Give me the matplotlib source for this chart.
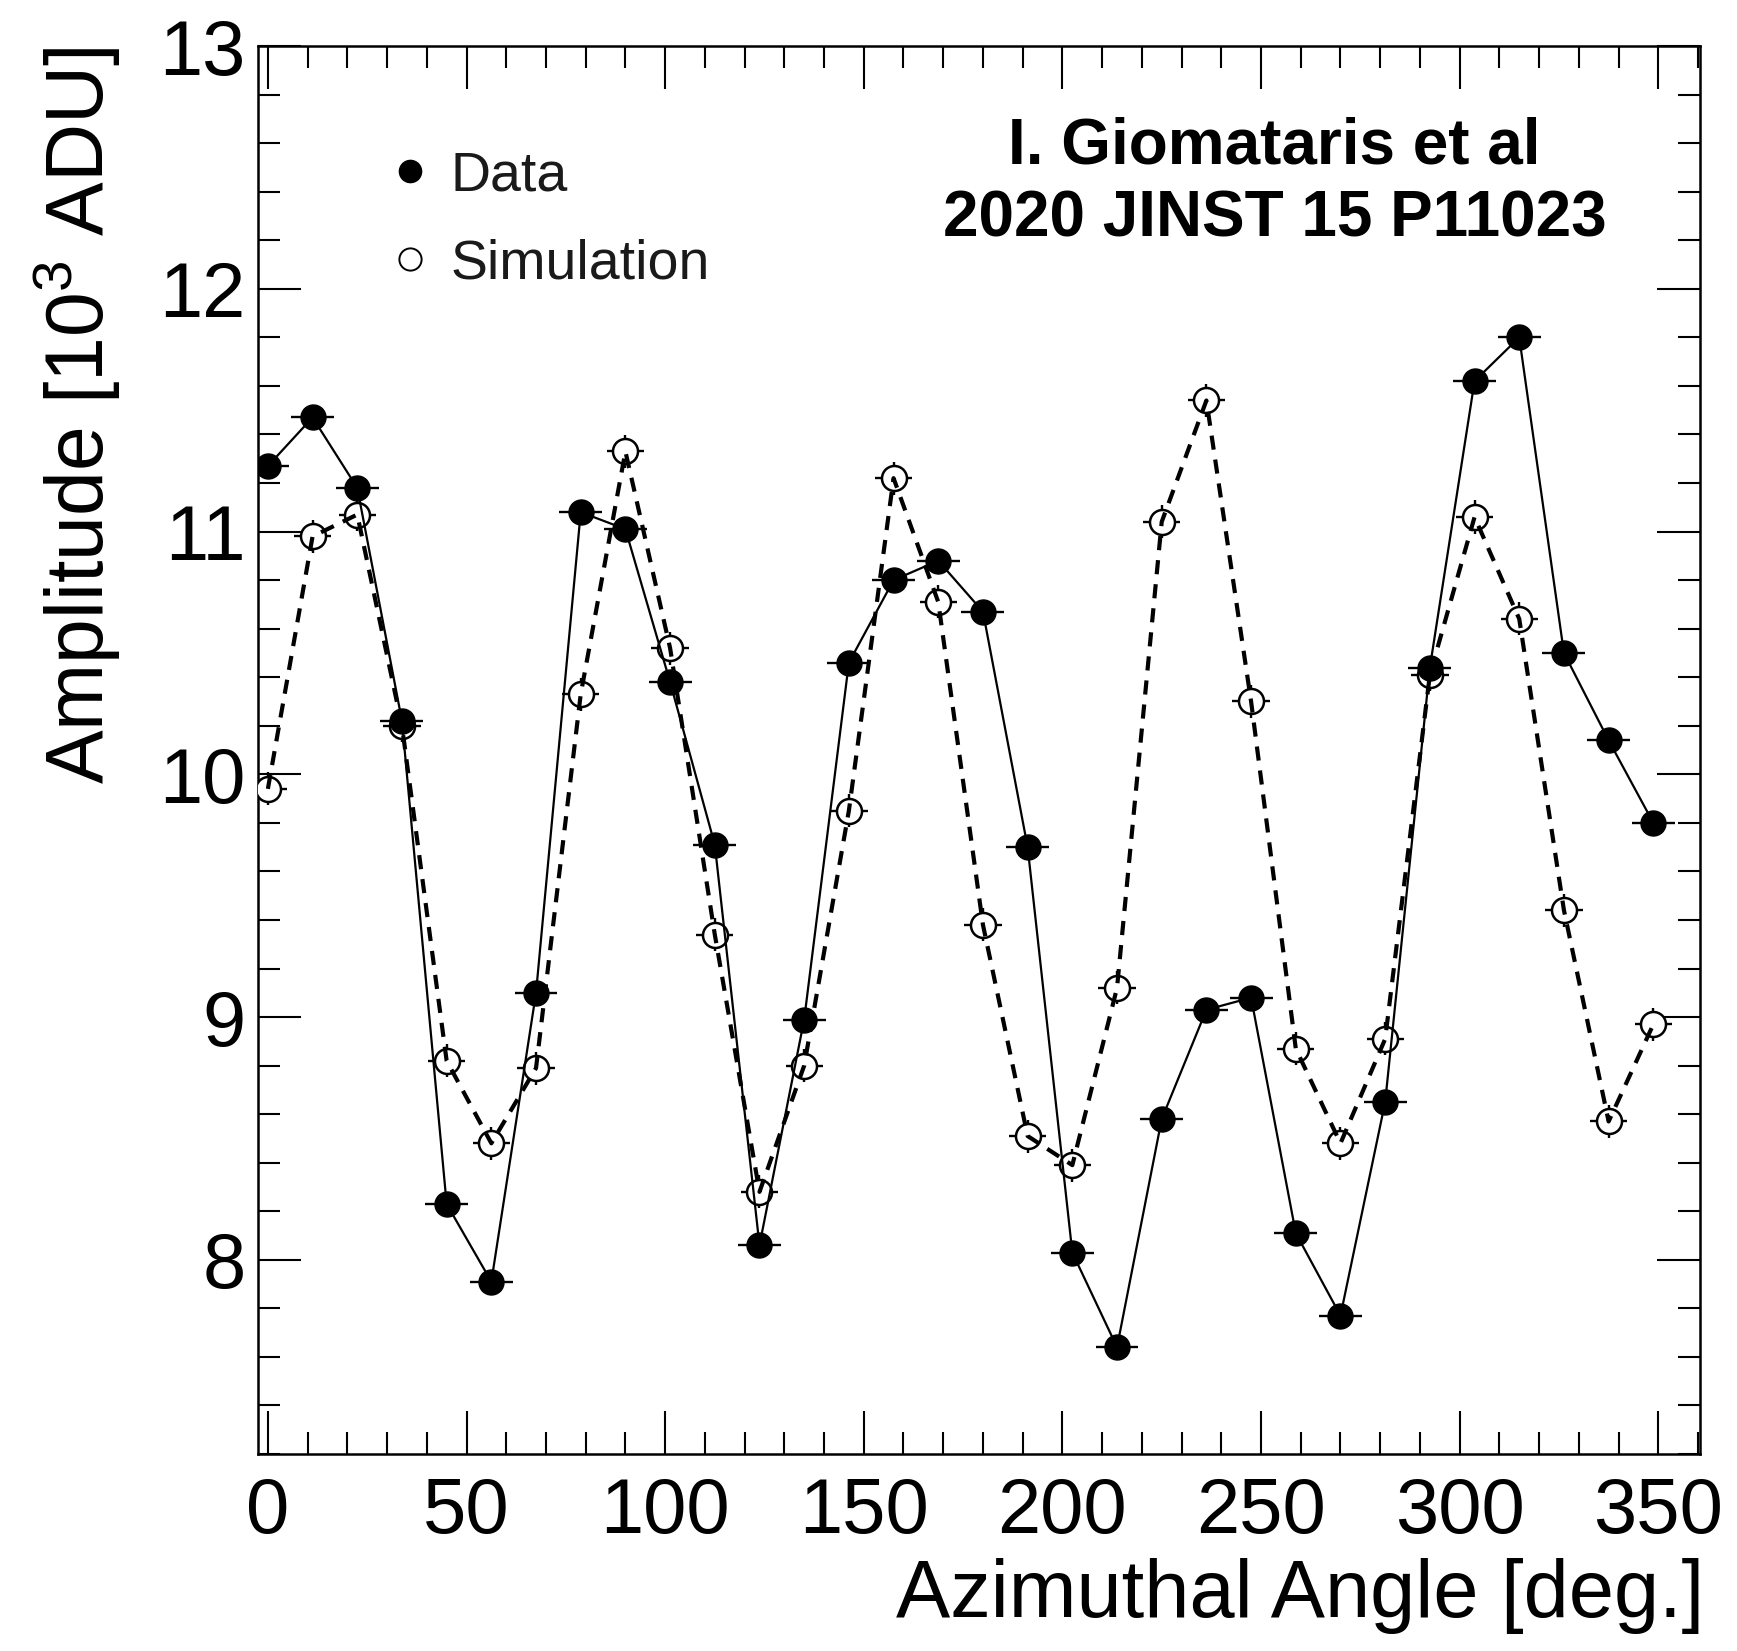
import matplotlib
matplotlib.use("Agg")
import matplotlib.pyplot as plt
from matplotlib.lines import Line2D
from matplotlib.ticker import MultipleLocator, FixedLocator

plt.rcParams["font.family"] = ["Liberation Sans", "DejaVu Sans"]
plt.rcParams["mathtext.fontset"] = "custom"
plt.rcParams["mathtext.rm"] = "Liberation Sans"
plt.rcParams["mathtext.it"] = "Liberation Sans:italic"
plt.rcParams["mathtext.bf"] = "Liberation Sans:bold"

# Azimuthal position of each anode (deg.)
angle_deg = [0.0, 11.25, 22.5, 33.75, 45.0, 56.25, 67.5, 78.75,
             90.0, 101.25, 112.5, 123.75, 135.0, 146.25, 157.5, 168.75,
             180.0, 191.25, 202.5, 213.75, 225.0, 236.25, 247.5, 258.75,
             270.0, 281.25, 292.5, 303.75, 315.0, 326.25, 337.5, 348.75]

# Pulse amplitude [10^3 ADU]
data_amp = [11.27, 11.47, 11.18, 10.22, 8.23, 7.91, 9.10, 11.08,
            11.01, 10.38, 9.71, 8.06, 8.99, 10.46, 10.80, 10.88,
            10.67, 9.70, 8.03, 7.64, 8.58, 9.03, 9.08, 8.11,
            7.77, 8.65, 10.44, 11.62, 11.80, 10.50, 10.14, 9.80]
sim_amp = [9.94, 10.98, 11.07, 10.20, 8.82, 8.48, 8.79, 10.33,
           11.33, 10.52, 9.34, 8.28, 8.80, 9.85, 11.22, 10.71,
           9.38, 8.51, 8.39, 9.12, 11.04, 11.54, 10.30, 8.87,
           8.48, 8.91, 10.41, 11.06, 10.64, 9.44, 8.57, 8.97]

# uncertainties
data_xerr, data_yerr = 5.4, 0.04
sim_xerr, sim_yerr = 4.7, 0.068

x_ticks = [0, 50, 100, 150, 200, 250, 300, 350]
y_ticks = [8, 9, 10, 11, 12, 13]

fig = plt.figure(figsize=(17.37, 16.51), dpi=100)
ax = fig.add_axes([0.1485, 0.1193, 0.9787 - 0.1485, 0.9721 - 0.1193])

# Simulation: dashed line with open circles
ax.errorbar(angle_deg, sim_amp, xerr=sim_xerr, yerr=sim_yerr, fmt="none",
            ecolor="black", elinewidth=1.7, zorder=2)
ax.plot(angle_deg, sim_amp, linestyle="none", marker="o", ms=18,
        mfc="white", mec="black", mew=1.8, zorder=3)
ax.plot(angle_deg, sim_amp, linestyle=(0, (3.4, 2.4)), lw=3.0,
        color="black", zorder=4)

# Data: solid line with filled circles
ax.errorbar(angle_deg, data_amp, xerr=data_xerr, yerr=data_yerr, fmt="none",
            ecolor="black", elinewidth=1.7, zorder=5)
ax.plot(angle_deg, data_amp, linestyle="-", lw=1.6, color="black", zorder=5)
ax.plot(angle_deg, data_amp, linestyle="none", marker="o", ms=18,
        mfc="black", mec="black", zorder=6)

ax.set_xlim(-2.5, 360.5)
ax.set_ylim(7.2, 13.0)

ax.xaxis.set_major_locator(FixedLocator(x_ticks))
ax.xaxis.set_minor_locator(MultipleLocator(10))
ax.yaxis.set_major_locator(FixedLocator(y_ticks))
ax.yaxis.set_minor_locator(MultipleLocator(0.2))
ax.set_xticklabels([str(v) for v in x_ticks])
ax.set_yticklabels([str(v) for v in y_ticks])

ax.tick_params(which="both", direction="in", top=True, right=True,
               color="black", labelsize=56)
ax.tick_params(which="major", length=31, width=1.5)
ax.tick_params(which="minor", length=15.5, width=1.5)
ax.tick_params(axis="x", which="major", pad=16)
ax.tick_params(axis="y", which="major", pad=9)
for sp in ax.spines.values():
    sp.set_linewidth(1.8)

ax.set_xlabel("Azimuthal Angle [deg.]", fontsize=58.5, loc="right")
ax.xaxis.set_label_coords(1.003, -0.074)
ax.set_ylabel(r"Amplitude [10$^{\mathregular{3}}$ ADU]", fontsize=58, loc="top")
ax.yaxis.set_label_coords(-0.094, 1.0)

handles = [
    Line2D([], [], linestyle="none", marker="o", ms=16, mfc="black", mec="black"),
    Line2D([], [], linestyle="none", marker="o", ms=16, mfc="white", mec="black", mew=1.4),
]
leg = ax.legend(handles, ["Data", "Simulation"], loc="center left",
                bbox_to_anchor=(0.094, 0.876), frameon=False, fontsize=40,
                handlelength=0.6, handletextpad=0.42, labelspacing=0.65,
                borderpad=0, borderaxespad=0)
for t in leg.get_texts():
    t.set_color("#1a1a1a")

ax.text(0.705, 0.929, "I. Giomataris et al", transform=ax.transAxes,
        ha="center", va="center", fontsize=46, fontweight="bold")
ax.text(0.705, 0.877, "2020 JINST 15 P11023", transform=ax.transAxes,
        ha="center", va="center", fontsize=46, fontweight="bold")

fig.savefig("out.png", dpi=100)
